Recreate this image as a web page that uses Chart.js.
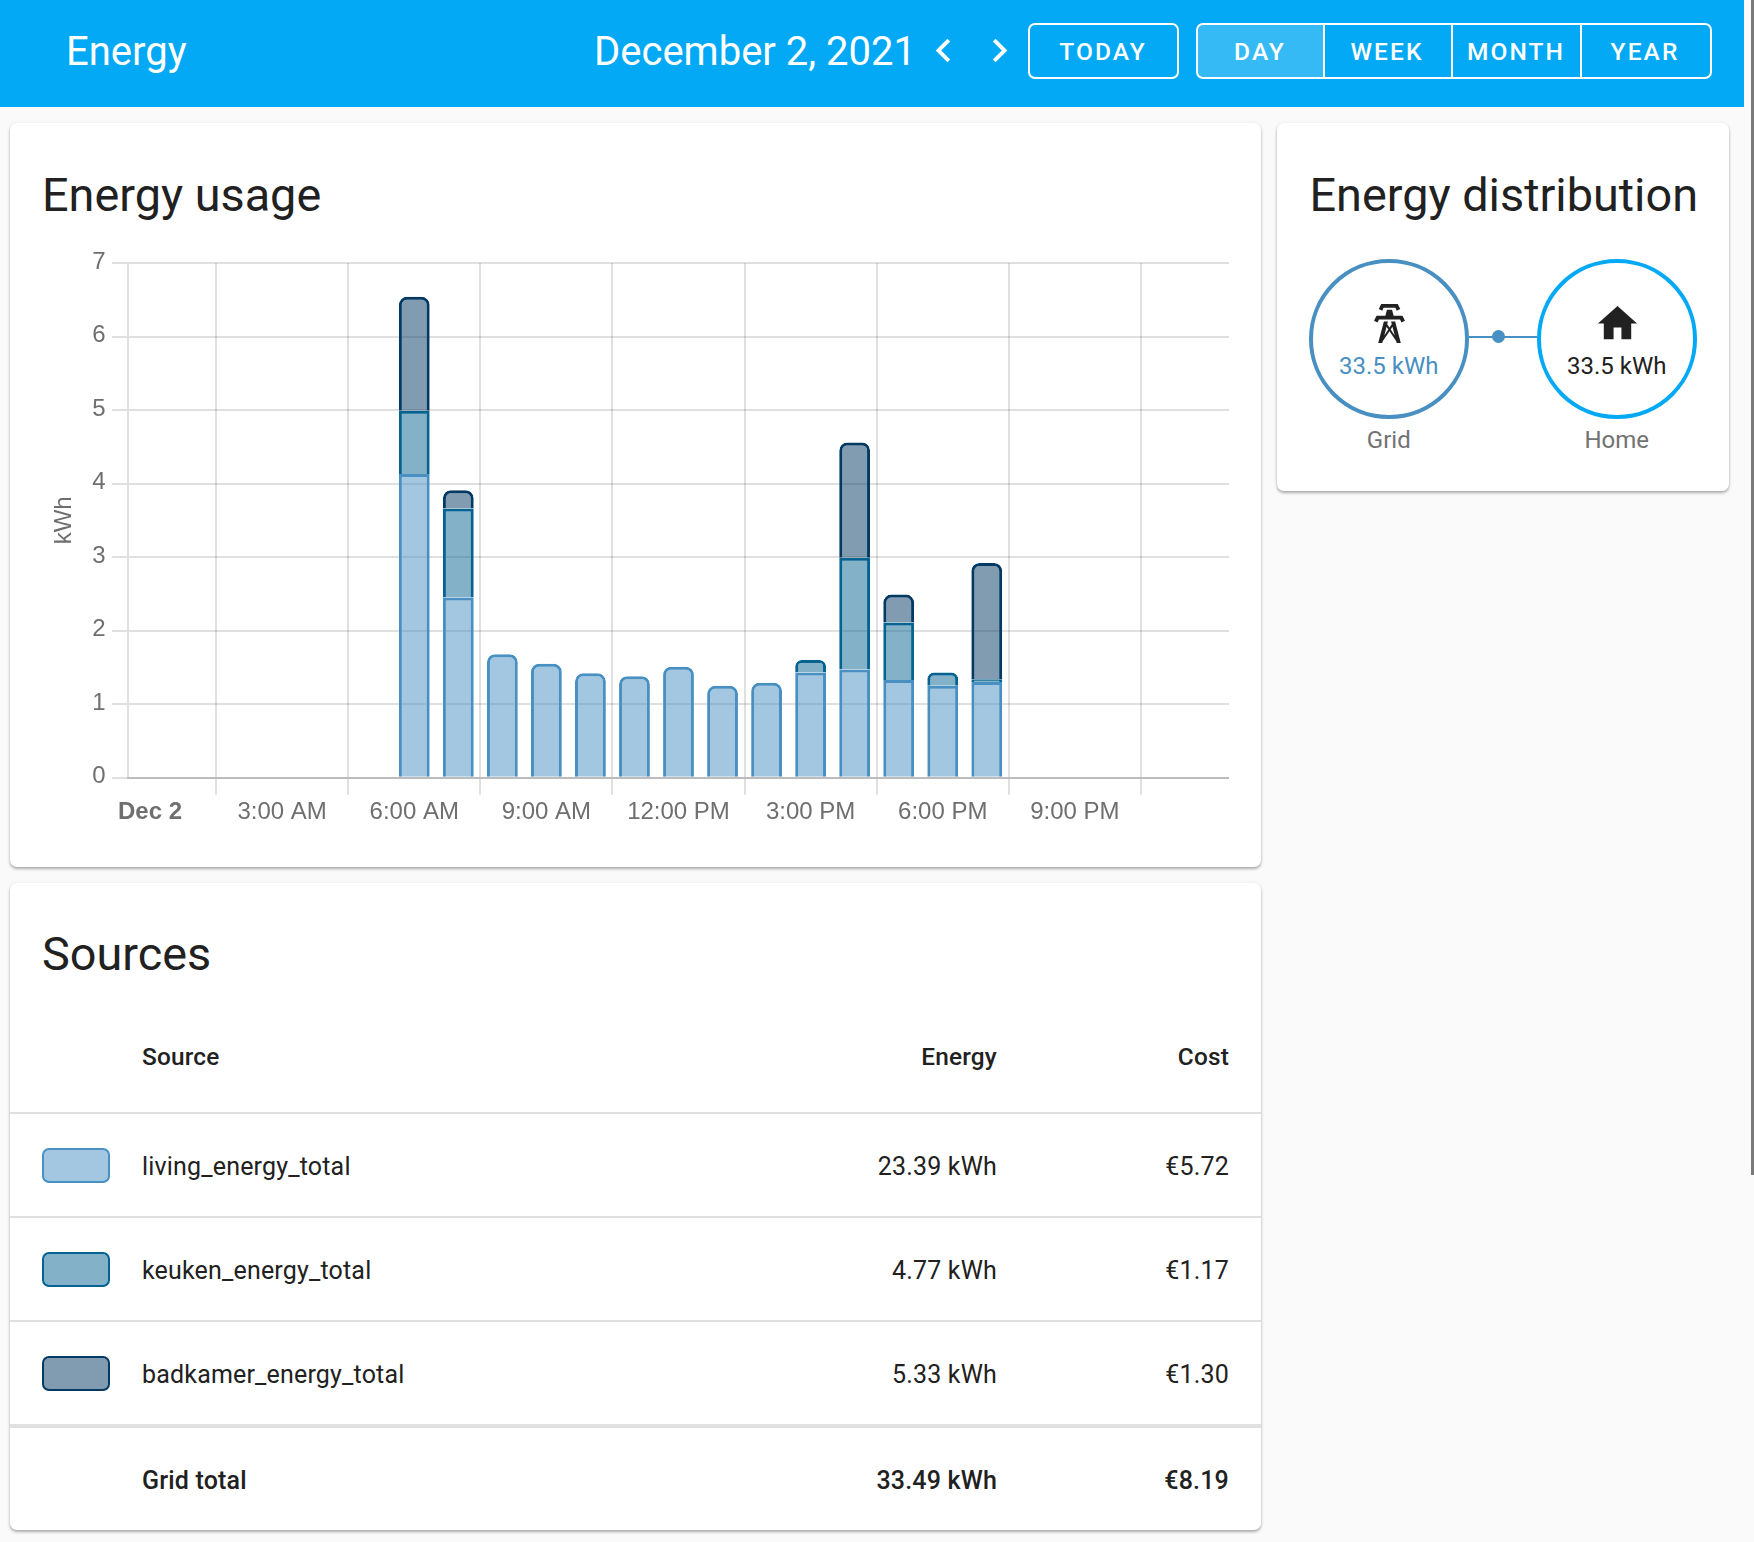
<!DOCTYPE html>
<html>
<head>
<meta charset="utf-8">
<title>Energy</title>
<script src="https://cdn.jsdelivr.net/npm/chart.js@4"></script>
<style>
  html, body { margin: 0; padding: 0; background: #fafafa; overflow: hidden; }
  body { width: 1754px; height: 1542px; position: relative; font-family: Roboto, sans-serif; color: #212121; }
  .abs { position: absolute; white-space: nowrap; line-height: 1; }
  .mid { transform: translateY(-50%); }
  .right { text-align: right; }
  #toolbar { position: absolute; left: 0; top: 0; width: 1744px; height: 107px; background: #03a9f4; color: #fff; }
  #scrollbar { position: absolute; left: 1751px; top: 0; width: 3px; height: 1175px; background: #7a7a7a; }
  .btn { position: absolute; top: 23px; height: 56px; box-sizing: border-box; border: 2px solid #fff; display: flex; align-items: center; justify-content: center; font-size: 24.5px; font-weight: 500; letter-spacing: 2.1px; color: #fff; }
  .card { position: absolute; background: #fff; border-radius: 7px; box-shadow: 0 2px 3px rgba(0,0,0,.3), 0 0 4px rgba(0,0,0,.06); }
  .title { font-size: 46.8px; font-weight: 400; }
  .th { font-size: 24.4px; font-weight: 500; letter-spacing: .18px; }
  .td { font-size: 25px; letter-spacing: .18px; }
  .flow { font-size: 24px; }
  .rule { position: absolute; left: 10px; width: 1251px; height: 2px; background: #e0e0e0; }
  .swatch { position: absolute; left: 42px; width: 67.5px; height: 35px; box-sizing: border-box; border-radius: 7px; border: 2.5px solid; }
  .ring { position: absolute; top: 259px; width: 159.5px; height: 159.5px; box-sizing: border-box; border-radius: 50%; border: 4px solid; background: #fff; }
  canvas { position: absolute; left: 30px; top: 240px; }
</style>
</head>
<body>

<div id="toolbar">
  <div class="abs mid" style="left:66px;top:52px;font-size:40px">Energy</div>
  <div class="abs mid" style="left:594px;top:52px;font-size:40px">December 2, 2021</div>
  <svg class="abs" style="left:920px;top:27px" width="47" height="47" viewBox="0 0 24 24"><path fill="#fff" d="M15.41,16.58L10.83,12L15.41,7.41L14,6L8,12L14,18L15.41,16.58Z"/></svg>
  <svg class="abs" style="left:976px;top:27px" width="47" height="47" viewBox="0 0 24 24"><path fill="#fff" d="M8.59,16.58L13.17,12L8.59,7.41L10,6L16,12L10,18L8.59,16.58Z"/></svg>
  <div class="btn" style="left:1027.5px;width:151px;border-radius:7px">TODAY</div>
  <div class="btn" style="left:1195.5px;width:129px;border-radius:7px 0 0 7px;background:rgba(255,255,255,.2);">DAY</div>
  <div class="btn" style="left:1323px;width:130px;border-left:0;border-right:2px solid #fff">WEEK</div>
  <div class="btn" style="left:1452px;width:130px;border-left:0">MONTH</div>
  <div class="btn" style="left:1580px;width:132px;border-left:0;border-radius:0 7px 7px 0">YEAR</div>
</div>
<div id="scrollbar"></div>

<div class="card" style="left:10px;top:123px;width:1251px;height:744px"></div>
<div class="abs mid title" style="left:42px;top:195px">Energy usage</div>
<canvas id="usage" width="1199" height="608" style="width:1199px;height:608px"></canvas>

<div class="card" style="left:1277px;top:123px;width:452px;height:368px"></div>
<div class="abs mid title" style="left:1309.5px;top:195px">Energy distribution</div>
<div style="position:absolute;left:1469px;top:335.5px;width:68px;height:2px;background:#488fc2"></div>
<div style="position:absolute;left:1491.5px;top:330px;width:13px;height:13px;border-radius:50%;background:#488fc2"></div>
<div class="ring" style="left:1309px;border-color:#488fc2"></div>
<div class="ring" style="left:1537px;border-color:#03a9f4"></div>
<svg class="abs" style="left:1365.5px;top:300px" width="47" height="47" viewBox="0 0 24 24"><path fill="#212121" d="M8.28,5.45L6.5,4.55L7.76,2H16.23L17.5,4.55L15.72,5.44L15,4H9L8.28,5.45M18.62,8H14.09L13.3,5H10.7L9.91,8H5.38L4.1,10.55L5.89,11.44L6.62,10H17.38L18.1,11.45L19.89,10.56L18.62,8M17.77,22H15.7L15.46,21.1L12,15.9L8.53,21.1L8.3,22H6.23L9.12,11H11.19L10.83,12.35L12,14.1L13.16,12.35L12.81,11H14.88L17.77,22M11.4,15L10.5,13.65L9.32,18.13L11.4,15M14.68,18.12L13.5,13.64L12.6,15L14.68,18.12Z"/></svg>
<svg class="abs" style="left:1593.5px;top:300px" width="47" height="47" viewBox="0 0 24 24"><path fill="#212121" d="M10,20V14H14V20H19V12H22L12,3L2,12H5V20H10Z"/></svg>
<div class="abs mid flow" style="left:1309px;width:159.5px;text-align:center;top:365.5px;color:#488fc2">33.5 kWh</div>
<div class="abs mid flow" style="left:1537px;width:159.5px;text-align:center;top:365.5px">33.5 kWh</div>
<div class="abs mid flow" style="left:1309px;width:159.5px;text-align:center;top:439.5px;color:#727272">Grid</div>
<div class="abs mid flow" style="left:1537px;width:159.5px;text-align:center;top:439.5px;color:#727272">Home</div>

<div class="card" style="left:10px;top:883px;width:1251px;height:647px"></div>
<div class="abs mid title" style="left:42px;top:954px">Sources</div>
<div class="abs mid th" style="left:142px;top:1057px">Source</div>
<div class="abs mid th right" style="right:757px;top:1057px">Energy</div>
<div class="abs mid th right" style="right:525px;top:1057px">Cost</div>
<div id="rows"></div>

<script>
"use strict";

// ── Data ─────────────────────────────────────────────────────────────────────
const hourLabels = ["Dec 2", "1:00 AM", "2:00 AM", "3:00 AM", "4:00 AM", "5:00 AM", "6:00 AM", "7:00 AM",
  "8:00 AM", "9:00 AM", "10:00 AM", "11:00 AM", "12:00 PM", "1:00 PM", "2:00 PM", "3:00 PM",
  "4:00 PM", "5:00 PM", "6:00 PM", "7:00 PM", "8:00 PM", "9:00 PM", "10:00 PM", "11:00 PM", ""];
const livingValues = [null, null, null, null, null, null, 4.13, 2.45, 1.68, 1.55, 1.42, 1.38,
  1.51, 1.25, 1.29, 1.43, 1.47, 1.33, 1.25, 1.30, null, null, null, null, null];
const keukenValues = [null, null, null, null, null, null, 0.86, 1.21, null, null, null, null,
  null, null, null, 0.17, 1.52, 0.78, 0.18, 0.04, null, null, null, null, null];
const badkamerValues = [null, null, null, null, null, null, 1.55, 0.25, null, null, null, null,
  null, null, null, null, 1.57, 0.38, null, 1.58, null, null, null, null, null];

const sourceNames  = ["living_energy_total", "keuken_energy_total", "badkamer_energy_total"];
const sourceEnergy = ["23.39 kWh", "4.77 kWh", "5.33 kWh"];
const sourceCost   = ["€5.72", "€1.17", "€1.30"];
const sourceColors = ["#488fc2", "#056391", "#033963"];
const totalRow     = ["Grid total", "33.49 kWh", "€8.19"];

// ── Sources table ────────────────────────────────────────────────────────────
const rows = document.getElementById("rows");
const ruleTops = [1112, 1216, 1320];
const rowMids  = [1166, 1270, 1374];

function addText(cls, style, text) {
  const d = document.createElement("div");
  d.className = "abs mid " + cls;
  d.style.cssText = style;
  d.textContent = text;
  rows.appendChild(d);
}

sourceNames.forEach((name, i) => {
  const rule = document.createElement("div");
  rule.className = "rule";
  rule.style.top = ruleTops[i] + "px";
  rows.appendChild(rule);

  const sw = document.createElement("div");
  sw.className = "swatch";
  sw.style.top = (rowMids[i] - 18) + "px";
  sw.style.borderColor = sourceColors[i];
  sw.style.background = sourceColors[i] + "7F";
  rows.appendChild(sw);

  addText("td", `left:142px;top:${rowMids[i]}px`, name);
  addText("td right", `right:757px;top:${rowMids[i]}px`, sourceEnergy[i]);
  addText("td right", `right:525px;top:${rowMids[i]}px`, sourceCost[i]);
});

const thick = document.createElement("div");
thick.className = "rule";
thick.style.cssText = "top:1424px;height:4px";
rows.appendChild(thick);
addText("th", "left:142px;top:1480px;font-size:25px", totalRow[0]);
addText("th right", "right:757px;top:1480px;font-size:25px", totalRow[1]);
addText("th right", "right:525px;top:1480px;font-size:25px", totalRow[2]);

// ── Energy usage chart ───────────────────────────────────────────────────────
function barSet(label, values, color) {
  return {
    label,
    data: values,
    borderColor: color,
    backgroundColor: color + "7F",
    borderWidth: 3,
    borderRadius: 8,
    barPercentage: 0.7,
    categoryPercentage: 1,
    stack: "grid",
  };
}

const gridLine = "rgba(0,0,0,0.12)";

new Chart(document.getElementById("usage"), {
  type: "bar",
  data: {
    labels: hourLabels,
    datasets: [
      barSet(sourceNames[0], livingValues, sourceColors[0]),
      barSet(sourceNames[1], keukenValues, sourceColors[1]),
      barSet(sourceNames[2], badkamerValues, sourceColors[2]),
    ],
  },
  options: {
    responsive: false,
    animation: false,
    layout: { padding: { top: 23 } },
    plugins: { legend: { display: false }, tooltip: { enabled: false } },
    scales: {
      x: {
        stacked: true,
        offset: true,
        afterFit: s => { s.height = 70.3; },
        grid: { offset: true, color: gridLine, lineWidth: 2, tickLength: 17 },
        border: { color: "rgba(0,0,0,0.16)", width: 2 },
        ticks: {
          autoSkip: true,
          autoSkipPadding: 0,
          maxTicksLimit: 10,
          maxRotation: 0,
          padding: 3,
          color: "#6f6f6f",
          font: ctx => ({ family: "'Liberation Sans'", size: 24, weight: ctx.index === 0 ? "bold" : "normal" }),
        },
      },
      y: {
        stacked: true,
        min: 0,
        max: 7,
        afterFit: s => { s.width = 98; },
        grid: { color: gridLine, lineWidth: 2, tickLength: 16 },
        border: { color: gridLine, width: 2 },
        ticks: { stepSize: 1, padding: 6.5, labelOffset: -1, color: "#6f6f6f", font: { family: "'Liberation Sans'", size: 24 } },
        title: { display: true, text: "kWh", color: "#6f6f6f", padding: { top: 20, bottom: 4 }, font: { family: "'Liberation Sans'", size: 24 } },
      },
    },
  },
});
</script>
</body>
</html>
